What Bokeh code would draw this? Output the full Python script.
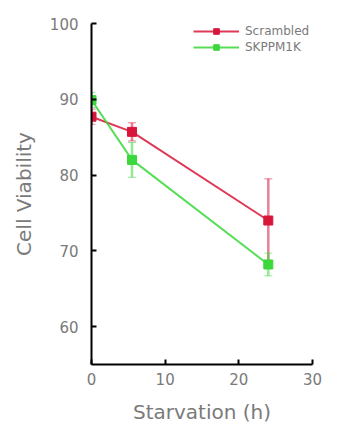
from bokeh.plotting import figure
from bokeh.models import ColumnDataSource, Whisker, Legend, LegendItem, FixedTicker, Range1d
from bokeh.embed import file_html
from bokeh.resources import INLINE

hours = [0, 5.5, 24]
scr_mean = [87.7, 85.7, 74.0]
scr_err = [1.0, 1.2, 5.5]
kd_mean = [89.9, 82.0, 68.2]
kd_err = [1.0, 2.3, 1.5]
x_ticks = [0, 10, 20, 30]
y_ticks = [60, 70, 80, 90, 100]
series_names = ["Scrambled", "SKPPM1K"]

RED = "#d8163a"
GREEN = "#3ad83a"
GRAY = "#7a7a7a"
FONT = "DejaVu Sans"

p = figure(width=325, height=421, output_backend="svg", toolbar_location=None,
           x_range=Range1d(0, 30), y_range=Range1d(55, 100),
           frame_width=221, frame_height=341,
           min_border_left=91, min_border_right=13, min_border_top=23, min_border_bottom=57)
p.outline_line_color = None
p.grid.visible = False
p.background_fill_color = "white"

for ax in (p.xaxis[0], p.yaxis[0]):
    ax.axis_line_width = 2
    ax.axis_line_color = "black"
    ax.major_tick_line_width = 2
    ax.major_tick_line_color = "black"
    ax.major_tick_in = 5
    ax.major_tick_out = 0
    ax.minor_tick_line_color = None
    ax.major_label_text_color = GRAY
    ax.major_label_text_font = FONT
    ax.major_label_text_font_size = "15px"
    ax.axis_label_text_color = GRAY
    ax.axis_label_text_font = FONT
    ax.axis_label_text_font_size = "20px"
    ax.axis_label_text_font_style = "normal"

p.xaxis.ticker = FixedTicker(ticks=x_ticks)
p.yaxis.ticker = FixedTicker(ticks=y_ticks)
p.xaxis.axis_label = "Starvation (h)"
p.yaxis.axis_label = "Cell Viability"
p.yaxis.major_label_standoff = 13
p.xaxis.major_label_standoff = 8
p.xaxis.axis_label_standoff = 12
p.yaxis.axis_label_standoff = 11

renderers = []
for mean, err, color in ((scr_mean, scr_err, RED), (kd_mean, kd_err, GREEN)):
    src = ColumnDataSource(dict(x=hours, y=mean,
                                lo=[m - e for m, e in zip(mean, err)],
                                hi=[m + e for m, e in zip(mean, err)]))
    w = Whisker(base="x", lower="lo", upper="hi", source=src,
                line_color=color, line_alpha=0.55, line_width=2.5)
    w.upper_head.line_color = color
    w.lower_head.line_color = color
    w.upper_head.line_alpha = 0.55
    w.lower_head.line_alpha = 0.55
    w.upper_head.size = 8
    w.lower_head.size = 8
    p.add_layout(w)
    l = p.line("x", "y", source=src, line_color=color, line_width=2, line_alpha=0.85)
    s = p.scatter("x", "y", source=src, marker="square", size=9,
                  fill_color=color, line_color=color)
    renderers.append((l, s))

legend = Legend(items=[LegendItem(label=series_names[i], renderers=list(renderers[i]))
                       for i in range(2)],
                location=(102, 310), border_line_color=None, background_fill_alpha=0,
                label_text_color=GRAY, label_text_font=FONT, label_text_font_size="12px",
                glyph_width=46, glyph_height=14, spacing=2, padding=0, margin=0,
                label_standoff=6, label_height=14)
p.add_layout(legend)

open("out.html", "w").write(file_html(p, INLINE))
